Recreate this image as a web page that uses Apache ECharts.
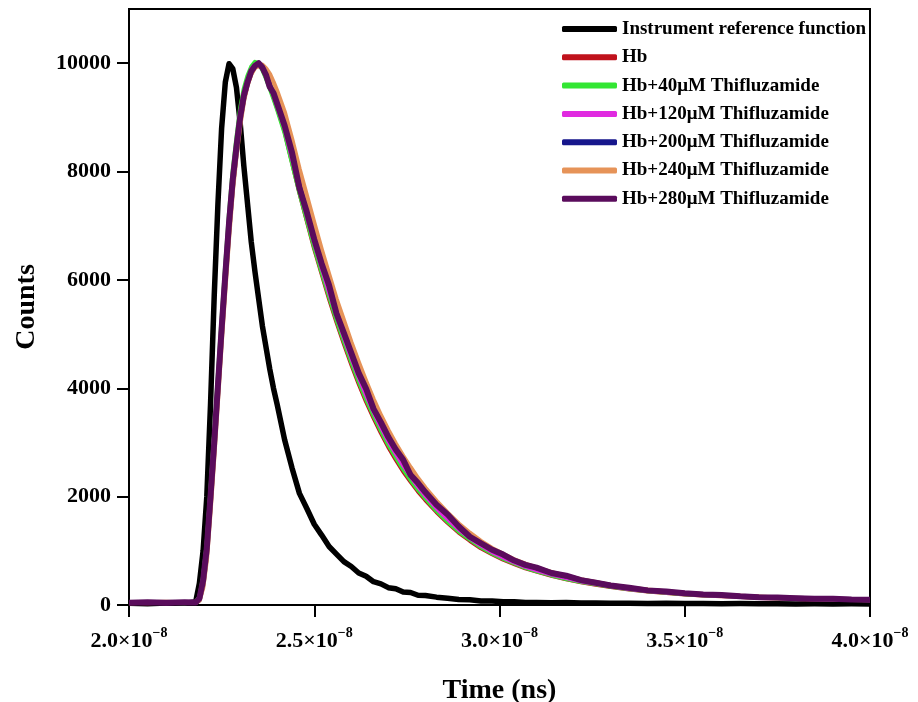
<!DOCTYPE html>
<html>
<head>
<meta charset="utf-8">
<script src="https://cdn.jsdelivr.net/npm/echarts@6/dist/echarts.min.js"></script>
<style>
  html, body { margin: 0; padding: 0; background: #fff; }
  #chart { width: 918px; height: 702px; }
</style>
</head>
<body>
<div id="chart"></div>
<script>
// time, in units of 10^-8 s (as on the axis labels)
var timeE8 = [2.00, 2.05, 2.10, 2.15, 2.18, 2.19, 2.20, 2.21, 2.22, 2.23, 2.24, 2.25, 2.26, 2.27, 2.28, 2.29, 2.30, 2.31, 2.32, 2.33, 2.34, 2.35, 2.36, 2.37, 2.38, 2.39, 2.40, 2.42, 2.44, 2.46, 2.48, 2.50, 2.52, 2.54, 2.56, 2.58, 2.60, 2.62, 2.64, 2.66, 2.68, 2.70, 2.72, 2.74, 2.76, 2.78, 2.80, 2.83, 2.86, 2.89, 2.92, 2.95, 2.98, 3.01, 3.04, 3.07, 3.10, 3.14, 3.18, 3.22, 3.26, 3.30, 3.35, 3.40, 3.45, 3.50, 3.55, 3.60, 3.65, 3.70, 3.75, 3.80, 3.85, 3.90, 3.95, 4.00];

// counts
var irf = [30, 25, 35, 30, 60, 400, 1000, 2000, 3700, 5700, 7400, 8800, 9650, 9990, 9900, 9550, 8900, 8100, 7400, 6700, 6150, 5650, 5150, 4750, 4350, 4000, 3700, 3050, 2530, 2060, 1780, 1490, 1290, 1080, 940, 800, 710, 590, 530, 430, 390, 320, 300, 240, 230, 180, 175, 145, 125, 100, 95, 75, 72, 58, 58, 48, 47, 42, 44, 36, 38, 32, 34, 28, 31, 26, 29, 24, 26, 23, 24, 20, 22, 19, 21, 20];
var hb = [45, 35, 50, 40, 50, 110, 430, 1020, 1950, 2950, 4000, 5050, 6050, 7000, 7800, 8400, 8950, 9350, 9620, 9820, 9930, 9960, 9900, 9750, 9570, 9380, 9180, 8750, 8180, 7620, 7100, 6580, 6120, 5660, 5230, 4830, 4450, 4090, 3760, 3460, 3180, 2920, 2690, 2470, 2280, 2100, 1940, 1720, 1520, 1340, 1190, 1050, 940, 840, 760, 680, 620, 545, 480, 425, 380, 335, 290, 255, 225, 200, 180, 165, 150, 135, 125, 115, 105, 100, 95, 90];
var hb40 = [50, 40, 45, 35, 55, 140, 500, 1120, 2100, 3150, 4200, 5250, 6250, 7200, 8000, 8600, 9150, 9520, 9760, 9930, 10020, 10000, 9880, 9720, 9540, 9350, 9150, 8720, 8170, 7620, 7110, 6610, 6150, 5700, 5270, 4870, 4490, 4130, 3800, 3500, 3220, 2960, 2730, 2510, 2310, 2130, 1970, 1740, 1540, 1360, 1210, 1070, 955, 855, 770, 690, 625, 550, 485, 430, 385, 340, 295, 260, 230, 205, 185, 170, 155, 140, 130, 120, 110, 105, 98, 92];
var hb120 = [40, 45, 35, 45, 50, 130, 470, 1080, 2050, 3080, 4120, 5180, 6180, 7120, 7920, 8500, 9050, 9440, 9690, 9880, 9970, 9990, 9910, 9760, 9590, 9410, 9210, 8800, 8250, 7700, 7190, 6690, 6230, 5780, 5350, 4950, 4570, 4210, 3880, 3570, 3290, 3030, 2800, 2580, 2380, 2190, 2020, 1790, 1590, 1400, 1240, 1100, 980, 880, 790, 710, 645, 565, 500, 440, 395, 350, 300, 265, 235, 210, 190, 170, 155, 142, 132, 122, 112, 106, 100, 94];
var hb200 = [45, 40, 50, 45, 40, 90, 360, 920, 1850, 2850, 3900, 4950, 5950, 6900, 7720, 8350, 8920, 9350, 9630, 9830, 9940, 9980, 9950, 9850, 9700, 9540, 9360, 8960, 8440, 7900, 7400, 6900, 6430, 5980, 5540, 5140, 4760, 4390, 4050, 3730, 3440, 3170, 2930, 2700, 2490, 2300, 2120, 1890, 1670, 1480, 1310, 1160, 1035, 925, 830, 750, 680, 600, 530, 465, 415, 365, 315, 275, 245, 218, 198, 178, 162, 148, 138, 128, 118, 112, 104, 97];
var hb240 = [35, 45, 55, 40, 40, 80, 320, 850, 1750, 2750, 3800, 4850, 5850, 6800, 7650, 8300, 8850, 9300, 9600, 9800, 9920, 9950, 9970, 9900, 9800, 9650, 9480, 9100, 8600, 8050, 7550, 7050, 6560, 6100, 5650, 5250, 4850, 4480, 4130, 3800, 3500, 3230, 2980, 2750, 2540, 2340, 2160, 1920, 1700, 1500, 1330, 1180, 1050, 940, 840, 760, 690, 605, 535, 470, 420, 370, 320, 280, 250, 220, 200, 180, 165, 150, 140, 130, 120, 110, 105, 100];
var hb280 = [40, 50, 40, 50, 45, 120, 450, 1050, 2000, 3000, 4050, 5100, 6100, 7050, 7850, 8450, 9000, 9400, 9650, 9850, 9950, 10000, 9920, 9780, 9560, 9450, 9250, 8850, 8350, 7700, 7250, 6750, 6300, 5900, 5380, 5020, 4650, 4280, 3990, 3620, 3370, 3100, 2870, 2680, 2400, 2250, 2080, 1850, 1670, 1450, 1260, 1140, 1020, 930, 820, 740, 690, 590, 540, 460, 410, 360, 320, 270, 250, 215, 195, 185, 160, 145, 140, 125, 115, 115, 100, 95];

var names = ['Instrument reference function', 'Hb', 'Hb+40μM Thifluzamide', 'Hb+120μM Thifluzamide',
             'Hb+200μM Thifluzamide', 'Hb+240μM Thifluzamide', 'Hb+280μM Thifluzamide'];
var colors = ['#000000', '#c0121c', '#33e633', '#e02ae0', '#16168c', '#e69358', '#5a0c5c'];
var widths = [5.5, 4.5, 4.5, 4.5, 4.5, 4.5, 6];
var yTicks = [0, 2000, 4000, 6000, 8000, 10000];

var values = [irf, hb, hb40, hb120, hb200, hb240, hb280];
var font = '"Liberation Serif", "Times New Roman", serif';

var series = [];
for (var i = 0; i < values.length; i++) {
	var pts = [];
	for (var j = 0; j < timeE8.length; j++) pts.push([timeE8[j], values[i][j]]);
	series.push({
		name: names[i],
		type: 'line',
		data: pts,
		showSymbol: false,
		lineStyle: { color: colors[i], width: widths[i], join: 'round' },
		itemStyle: { color: colors[i] }
	});
}

var chart = echarts.init(document.getElementById('chart'));
chart.setOption({
	animation: false,
	color: colors,
	grid: {
		left: 129, right: 48, top: 9, bottom: 97,
		outerBoundsMode: 'none',
		show: true, borderColor: '#000', borderWidth: 2
	},
	legend: {
		orient: 'vertical',
		left: 562, top: 19, padding: 0,
		itemWidth: 55, itemHeight: 6, itemGap: 8.3,
		icon: 'roundRect',
		textStyle: { fontFamily: font, fontWeight: 'bold', fontSize: 19, lineHeight: 20, color: '#000' },
		data: names
	},
	xAxis: {
		type: 'value',
		min: 2.0, max: 4.0, interval: 0.5,
		name: 'Time (ns)', nameLocation: 'middle', nameGap: 72,
		nameTextStyle: { fontFamily: font, fontWeight: 'bold', fontSize: 28, color: '#000' },
		axisLine: { lineStyle: { color: '#000', width: 2 } },
		axisTick: { inside: false, length: 12, lineStyle: { color: '#000', width: 2 } },
		axisLabel: {
			margin: 21,
			formatter: function (v) { return '{a|' + v.toFixed(1) + '×10}{b|−8}'; },
			rich: {
				a: { fontFamily: font, fontWeight: 'bold', fontSize: 22, lineHeight: 30, color: '#000' },
				b: { fontFamily: font, fontWeight: 'bold', fontSize: 14, lineHeight: 14, color: '#000', verticalAlign: 'top' }
			}
		},
		splitLine: { show: false }
	},
	yAxis: {
		type: 'value',
		min: 0, max: 11000, interval: 2000,
		name: 'Counts', nameLocation: 'middle', nameGap: 88,
		nameTextStyle: { fontFamily: font, fontWeight: 'bold', fontSize: 28, color: '#000' },
		axisLine: { show: true, lineStyle: { color: '#000', width: 2 } },
		axisTick: { show: true, inside: false, length: 12, lineStyle: { color: '#000', width: 2 } },
		axisLabel: {
			margin: 18, showMaxLabel: false,
			fontFamily: font, fontWeight: 'bold', fontSize: 22, color: '#000',
			formatter: function (v) { return yTicks.indexOf(v) >= 0 ? String(v) : ''; }
		},
		splitLine: { show: false }
	},
	series: series
});
</script>
</body>
</html>
